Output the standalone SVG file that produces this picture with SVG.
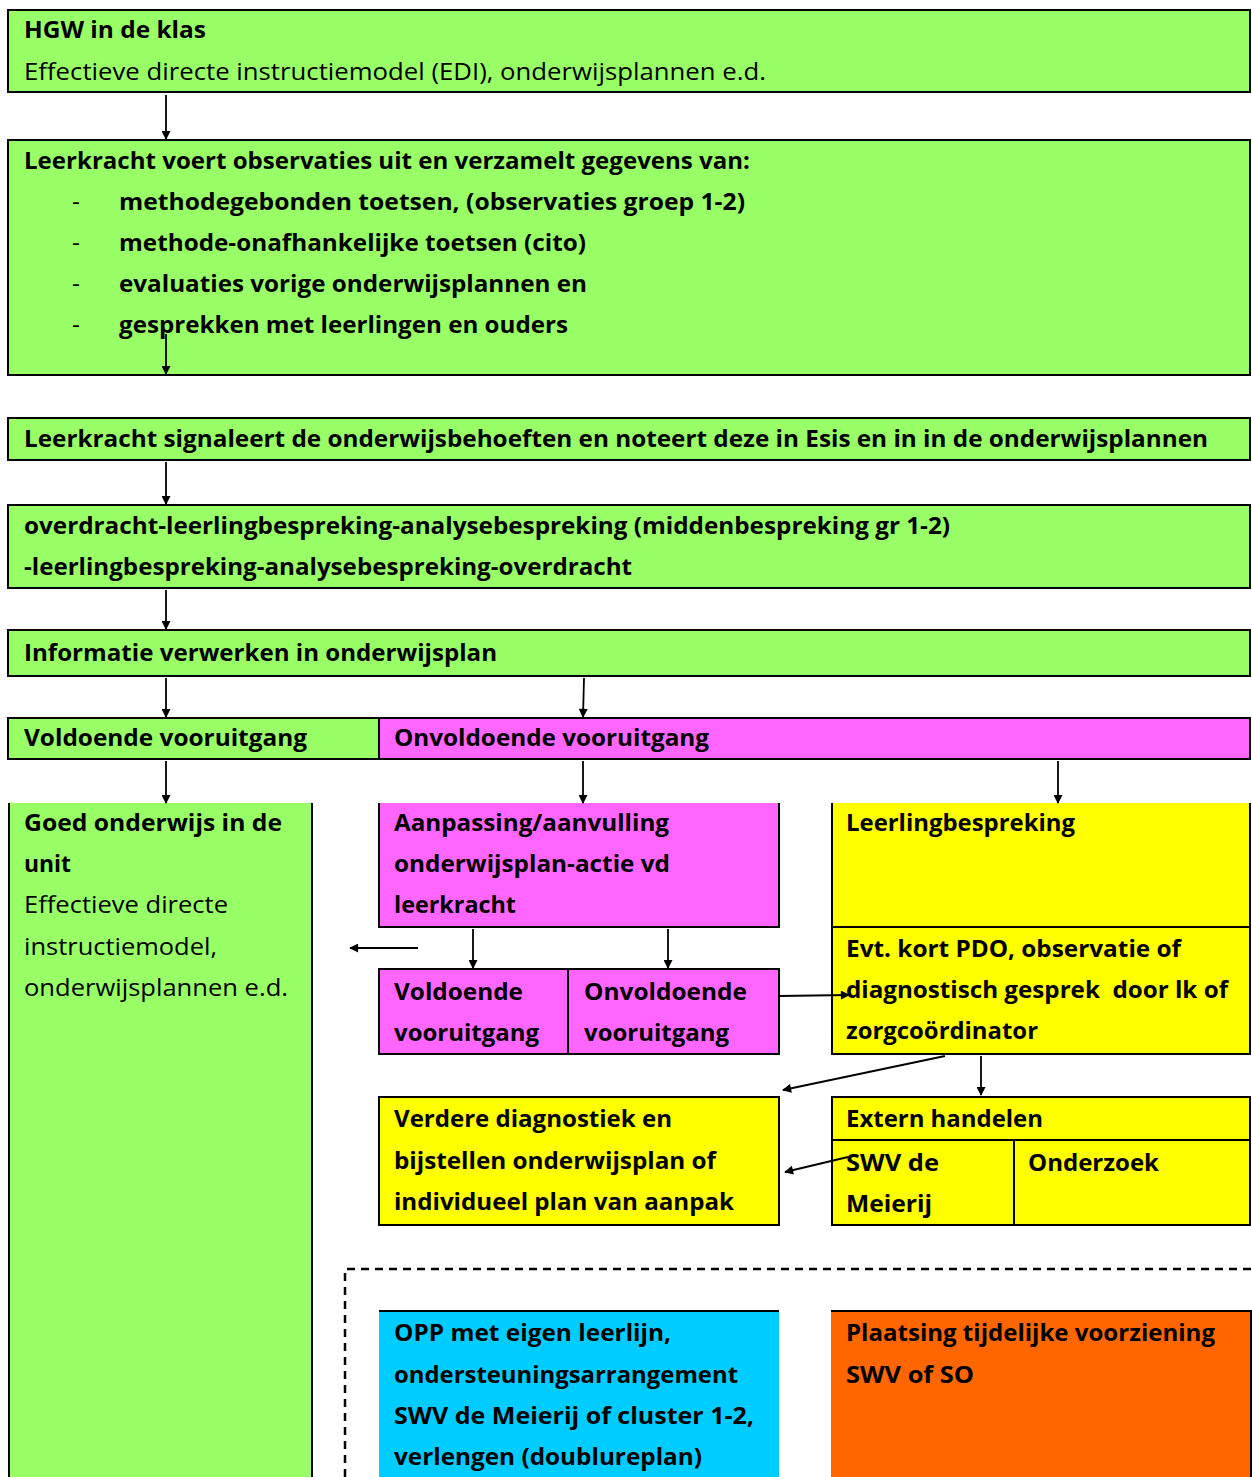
<svg xmlns="http://www.w3.org/2000/svg" width="1252" height="1477" viewBox="0 0 1252 1477">
<defs>
<style>
text{font-family:"Open Sans","Noto Sans","Liberation Sans",sans-serif;font-size:24.5px;fill:#000}
.b{font-weight:bold;font-size:23px}
.g{fill:#99FF66}
.m{fill:#FF66FF}
.y{fill:#FFFF00}
.bx{stroke:#000;stroke-width:2}
.ln{stroke:#000;stroke-width:2;fill:none}
.c{stroke:#000;stroke-width:1.8;fill:none;marker-end:url(#ah)}
</style>
<marker id="ah" viewBox="0 0 10 10" refX="9" refY="5" markerWidth="10" markerHeight="9" markerUnits="userSpaceOnUse" orient="auto">
<path d="M0,0 L10,5 L0,10 z" fill="#000"/>
</marker>
</defs>
<rect width="1252" height="1477" fill="#fff"/>

<g id="n1">
<rect class="g bx" x="8" y="10" width="1242" height="82"/>
<text class="b" x="24" y="38" textLength="182" lengthAdjust="spacingAndGlyphs">HGW in de klas</text>
<text x="24" y="80" textLength="742" lengthAdjust="spacingAndGlyphs">Effectieve directe instructiemodel (EDI), onderwijsplannen e.d.</text>
</g>

<g id="n2">
<rect class="g bx" x="8" y="140" width="1242" height="235"/>
<text class="b" x="24" y="169" textLength="726" lengthAdjust="spacingAndGlyphs">Leerkracht voert observaties uit en verzamelt gegevens van:</text>
<text x="72" y="210">-</text><text class="b" x="119" y="210" textLength="626" lengthAdjust="spacingAndGlyphs">methodegebonden toetsen, (observaties groep 1-2)</text>
<text x="72" y="251">-</text><text class="b" x="119" y="251" textLength="467" lengthAdjust="spacingAndGlyphs">methode-onafhankelijke toetsen (cito)</text>
<text x="72" y="292">-</text><text class="b" x="119" y="292" textLength="468" lengthAdjust="spacingAndGlyphs">evaluaties vorige onderwijsplannen en</text>
<text x="72" y="333">-</text><text class="b" x="119" y="333" textLength="449" lengthAdjust="spacingAndGlyphs">gesprekken met leerlingen en ouders</text>
</g>

<g id="n3">
<rect class="g bx" x="8" y="418" width="1242" height="42"/>
<text class="b" x="24" y="447" textLength="1184" lengthAdjust="spacingAndGlyphs">Leerkracht signaleert de onderwijsbehoeften en noteert deze in Esis en in in de onderwijsplannen</text>
</g>

<g id="n4">
<rect class="g bx" x="8" y="505" width="1242" height="83"/>
<text class="b" x="24" y="534" textLength="926" lengthAdjust="spacingAndGlyphs">overdracht-leerlingbespreking-analysebespreking (middenbespreking gr 1-2)</text>
<text class="b" x="24" y="575" textLength="608" lengthAdjust="spacingAndGlyphs">-leerlingbespreking-analysebespreking-overdracht</text>
</g>

<g id="n5">
<rect class="g bx" x="8" y="630" width="1242" height="46"/>
<text class="b" x="24" y="661" textLength="473" lengthAdjust="spacingAndGlyphs">Informatie verwerken in onderwijsplan</text>
</g>

<g id="n6">
<rect class="g bx" x="8" y="718" width="371" height="41"/>
<text class="b" x="24" y="746" textLength="283" lengthAdjust="spacingAndGlyphs">Voldoende vooruitgang</text>
</g>

<g id="n7">
<rect class="m bx" x="379" y="718" width="871" height="41"/>
<text class="b" x="394" y="746" textLength="315" lengthAdjust="spacingAndGlyphs">Onvoldoende vooruitgang</text>
</g>

<g id="n8">
<rect class="g" x="8" y="803" width="304" height="680"/>
<path class="ln" d="M9,803 V1477 M312,803 V1477"/>
<text class="b" x="24" y="831" textLength="258" lengthAdjust="spacingAndGlyphs">Goed onderwijs in de</text>
<text class="b" x="24" y="872" textLength="47" lengthAdjust="spacingAndGlyphs">unit</text>
<text x="24" y="913" textLength="204" lengthAdjust="spacingAndGlyphs">Effectieve directe</text>
<text x="24" y="955" textLength="193" lengthAdjust="spacingAndGlyphs">instructiemodel,</text>
<text x="24" y="996" textLength="264" lengthAdjust="spacingAndGlyphs">onderwijsplannen e.d.</text>
</g>

<g id="n9">
<rect class="m" x="379" y="803" width="400" height="124"/>
<path class="ln" d="M379,803 V927 H779 V803"/>
<text class="b" x="394" y="831" textLength="275" lengthAdjust="spacingAndGlyphs">Aanpassing/aanvulling</text>
<text class="b" x="394" y="872" textLength="276" lengthAdjust="spacingAndGlyphs">onderwijsplan-actie vd</text>
<text class="b" x="394" y="913" textLength="122" lengthAdjust="spacingAndGlyphs">leerkracht</text>
</g>

<g id="n10">
<rect class="y" x="832" y="803" width="418" height="124"/>
<path class="ln" d="M832,803 V927 H1250 V803"/>
<text class="b" x="846" y="831" textLength="229" lengthAdjust="spacingAndGlyphs">Leerlingbespreking</text>
</g>

<g id="n11">
<rect class="y bx" x="832" y="927" width="418" height="127"/>
<text class="b" x="846" y="957" textLength="335" lengthAdjust="spacingAndGlyphs">Evt. kort PDO, observatie of</text>
<text class="b" x="846" y="998" xml:space="preserve" textLength="382" lengthAdjust="spacingAndGlyphs">diagnostisch gesprek  door lk of</text>
<text class="b" x="846" y="1039" textLength="192" lengthAdjust="spacingAndGlyphs">zorgcoördinator</text>
</g>

<g id="n12">
<rect class="m bx" x="379" y="969" width="189" height="85"/>
<text class="b" x="394" y="1000" textLength="129" lengthAdjust="spacingAndGlyphs">Voldoende</text>
<text class="b" x="394" y="1041" textLength="145" lengthAdjust="spacingAndGlyphs">vooruitgang</text>
</g>

<g id="n13">
<rect class="m bx" x="568" y="969" width="211" height="85"/>
<text class="b" x="584" y="1000" textLength="163" lengthAdjust="spacingAndGlyphs">Onvoldoende</text>
<text class="b" x="584" y="1041" textLength="145" lengthAdjust="spacingAndGlyphs">vooruitgang</text>
</g>

<g id="n14">
<rect class="y bx" x="379" y="1097" width="400" height="128"/>
<text class="b" x="394" y="1127" textLength="278" lengthAdjust="spacingAndGlyphs">Verdere diagnostiek en</text>
<text class="b" x="394" y="1169" textLength="322" lengthAdjust="spacingAndGlyphs">bijstellen onderwijsplan of</text>
<text class="b" x="394" y="1210" textLength="340" lengthAdjust="spacingAndGlyphs">individueel plan van aanpak</text>
</g>

<g id="n15">
<rect class="y bx" x="832" y="1097" width="418" height="43"/>
<text class="b" x="846" y="1127" textLength="197" lengthAdjust="spacingAndGlyphs">Extern handelen</text>
</g>

<g id="n16">
<rect class="y bx" x="832" y="1140" width="182" height="85"/>
<text class="b" x="846" y="1171" textLength="93" lengthAdjust="spacingAndGlyphs">SWV de</text>
<text class="b" x="846" y="1212" textLength="86" lengthAdjust="spacingAndGlyphs">Meierij</text>
</g>

<g id="n17">
<rect class="y bx" x="1014" y="1140" width="236" height="85"/>
<text class="b" x="1028" y="1171" textLength="131" lengthAdjust="spacingAndGlyphs">Onderzoek</text>
</g>

<g id="dashed">
<path d="M345,1477 V1269 H1252" fill="none" stroke="#000" stroke-width="2.5" stroke-dasharray="8,6"/>
</g>

<g id="n18">
<rect x="379" y="1311" width="400" height="170" fill="#00CCFF"/>
<path class="ln" d="M379,1311 H779"/>
<text class="b" x="394" y="1341" textLength="277" lengthAdjust="spacingAndGlyphs">OPP met eigen leerlijn,</text>
<text class="b" x="394" y="1383" textLength="344" lengthAdjust="spacingAndGlyphs">ondersteuningsarrangement</text>
<text class="b" x="394" y="1424" textLength="360" lengthAdjust="spacingAndGlyphs">SWV de Meierij of cluster 1-2,</text>
<text class="b" x="394" y="1465" textLength="308" lengthAdjust="spacingAndGlyphs">verlengen (doublureplan)</text>
</g>

<g id="n19">
<rect x="831" y="1311" width="420" height="170" fill="#FF6600"/>
<path class="ln" d="M831,1311 H1251 V1477"/>
<text class="b" x="846" y="1341" textLength="369" lengthAdjust="spacingAndGlyphs">Plaatsing tijdelijke voorziening</text>
<text class="b" x="846" y="1383" textLength="128" lengthAdjust="spacingAndGlyphs">SWV of SO</text>
</g>

<g id="connectors">
<line class="c" x1="166" y1="95" x2="166" y2="139"/>
<line class="c" x1="166" y1="334" x2="166" y2="374"/>
<line class="c" x1="166" y1="462" x2="166" y2="504"/>
<line class="c" x1="166" y1="590" x2="166" y2="629"/>
<line class="c" x1="166" y1="678" x2="166" y2="717"/>
<line class="c" x1="584" y1="678" x2="583" y2="717"/>
<line class="c" x1="166" y1="761" x2="166" y2="803"/>
<line class="c" x1="583" y1="761" x2="583" y2="803"/>
<line class="c" x1="1058" y1="761" x2="1058" y2="803"/>
<line class="c" x1="473" y1="929" x2="473" y2="968"/>
<line class="c" x1="668" y1="929" x2="668" y2="968"/>
<line class="c" x1="418" y1="948" x2="350" y2="948"/>
<line class="c" x1="779" y1="996" x2="849" y2="995"/>
<line class="c" x1="945" y1="1056" x2="783" y2="1090"/>
<line class="c" x1="981" y1="1056" x2="981" y2="1095"/>
<line class="c" x1="848" y1="1157" x2="785" y2="1172"/>
</g>
</svg>
